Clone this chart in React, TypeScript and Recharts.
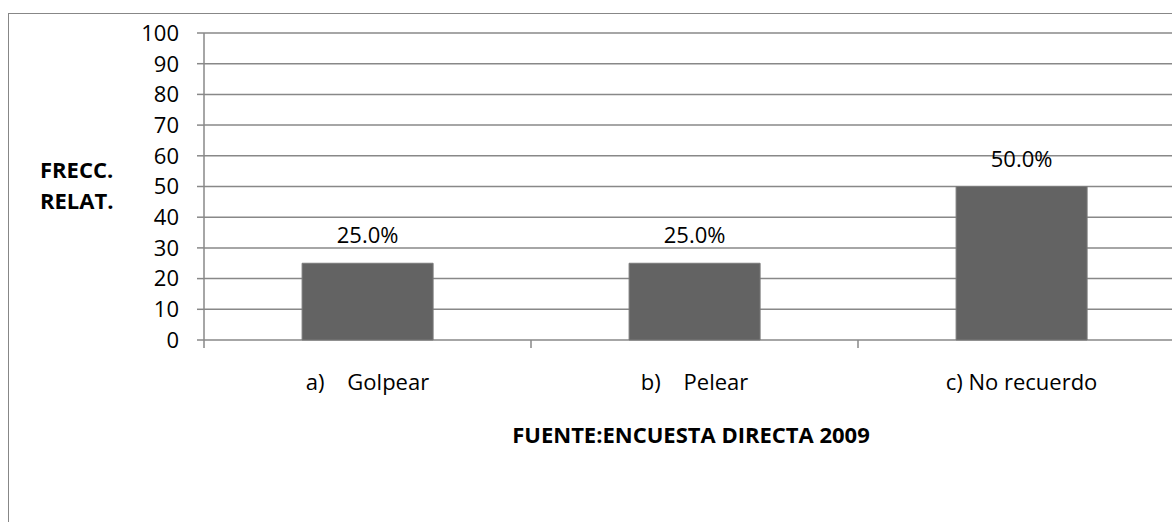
import React from "react"
import { BarChart, Bar, XAxis, YAxis, CartesianGrid, LabelList } from "recharts"

const categories = ["a)    Golpear", "b)    Pelear", "c) No recuerdo"]
const frecuencia = [25, 25, 50]
const yTicks = [0, 10, 20, 30, 40, 50, 60, 70, 80, 90, 100]

const data = categories.map((name, i) => ({ name, value: frecuencia[i] }))

const FONT = "'Open Sans', 'DejaVu Sans', sans-serif"
const GRID = "#888888"

// category label plus the tick marks that Excel puts between categories
function CategoryTick(props: any) {
  const { x, y, payload, width, index, visibleTicksCount } = props
  const band = width / visibleTicksCount
  return (
    <g>
      <line x1={x - band / 2} x2={x - band / 2} y1={y} y2={y + 8} stroke={GRID} strokeWidth={1.5} />
      {index === visibleTicksCount - 1 && (
        <line x1={x + band / 2} x2={x + band / 2} y1={y} y2={y + 8} stroke={GRID} strokeWidth={1.5} />
      )}
      <text
        x={x}
        y={y}
        dy={50}
        textAnchor="middle"
        fill="#000"
        fontSize={22}
        fontFamily={FONT}
        style={{ whiteSpace: "pre" }}
      >
        {payload.value}
      </text>
    </g>
  )
}

export default function App() {
  return (
    <div
      style={{
        position: "absolute",
        left: 0,
        top: 0,
        width: 1172,
        height: 522,
        overflow: "hidden",
        background: "#fff",
        fontFamily: FONT,
      }}
    >
      <div
        style={{
          position: "absolute",
          left: 8,
          top: 13,
          width: 1300,
          height: 700,
          borderLeft: "1.5px solid #878787",
          borderTop: "1.5px solid #878787",
        }}
      />
      <div style={{ position: "absolute", left: 0, top: 0 }}>
        <BarChart
          width={1200}
          height={522}
          data={data}
          margin={{ top: 33, right: 15, left: 0, bottom: 132 }}
          barCategoryGap="30%"
        >
          <CartesianGrid vertical={false} stroke={GRID} strokeWidth={1.5} />
          <XAxis
            dataKey="name"
            height={50}
            tickLine={false}
            tickSize={0}
            tickMargin={0}
            axisLine={false}
            tick={<CategoryTick />}
            interval={0}
          />
          <YAxis
            width={204}
            domain={[0, 100]}
            ticks={yTicks}
            interval={0}
            tickSize={7}
            tickMargin={18}
            axisLine={{ stroke: GRID, strokeWidth: 1.5 }}
            tickLine={{ stroke: GRID, strokeWidth: 1.5 }}
            tick={{ fill: "#000", fontSize: 22, fontFamily: FONT }}
          />
          <Bar
            dataKey="value"
            fill="#636363"
            stroke="#7a7a7a"
            strokeWidth={1}
            isAnimationActive={false}
          >
            <LabelList
              dataKey="value"
              position="top"
              offset={20}
              formatter={(v: any) => `${Number(v).toFixed(1)}%`}
              style={{ fill: "#000", fontSize: 22, fontFamily: FONT }}
            />
          </Bar>
        </BarChart>
      </div>
      <div
        style={{
          position: "absolute",
          left: 40,
          top: 154,
          fontSize: 22,
          lineHeight: "31px",
          fontWeight: 700,
          color: "#000",
        }}
      >
        FRECC.
        <br />
        RELAT.
      </div>
      <div
        style={{
          position: "absolute",
          left: 491,
          top: 419,
          width: 400,
          textAlign: "center",
          fontSize: 22,
          lineHeight: "31px",
          fontWeight: 700,
          color: "#000",
          whiteSpace: "nowrap",
        }}
      >
        FUENTE:ENCUESTA DIRECTA 2009
      </div>
    </div>
  )
}
